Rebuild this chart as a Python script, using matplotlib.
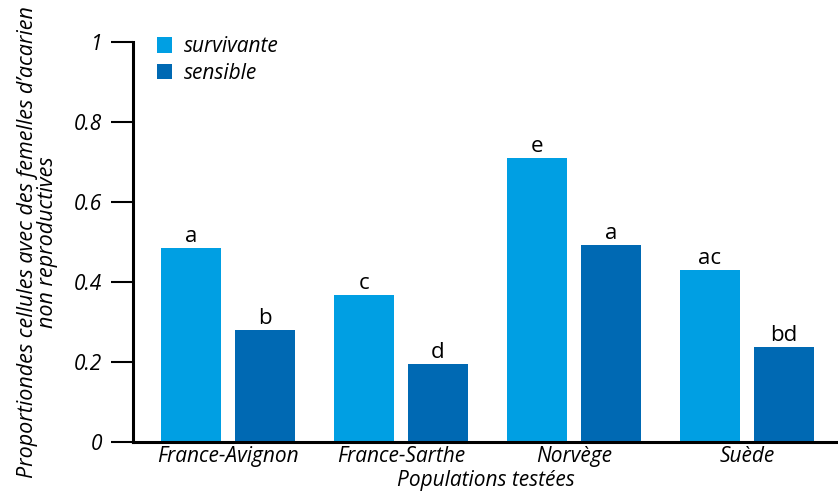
import numpy as np
import matplotlib.pyplot as plt

# Data
populations = ["France-Avignon", "France-Sarthe", "Norvège", "Suède"]
survivante = [0.485, 0.368, 0.71, 0.43]
sensible = [0.28, 0.195, 0.492, 0.237]
lettres_surv = ["a", "c", "e", "ac"]
lettres_sens = ["b", "d", "a", "bd"]

plt.rcParams["font.family"] = ["Open Sans", "DejaVu Sans"]

col_surv = "#009FE3"
col_sens = "#0069B3"

fig = plt.figure(figsize=(8.38, 4.93), dpi=100)
ax = fig.add_axes([133 / 838, 51 / 493, 705 / 838, 400 / 493])

x = np.arange(len(populations))
w = 0.347
off = 0.214
b1 = ax.bar(x - off, survivante, w, color=col_surv, label="survivante")
b2 = ax.bar(x + off, sensible, w, color=col_sens, label="sensible")

for rect, lab in zip(b1, lettres_surv):
    ax.text(rect.get_x() + rect.get_width() / 2, rect.get_height() + 0.002, lab,
            ha="center", va="bottom", fontsize=16)
for rect, lab in zip(b2, lettres_sens):
    ax.text(rect.get_x() + rect.get_width() / 2, rect.get_height() + 0.002, lab,
            ha="center", va="bottom", fontsize=16)

ax.set_xlim(-0.549, 3.526)
ax.set_ylim(0, 1)
ax.set_yticks([0, 0.2, 0.4, 0.6, 0.8, 1])
ax.set_yticklabels(["0", "0.2", "0.4", "0.6", "0.8", "1"], fontstyle="italic", fontsize=15)
ax.set_xticks(x)
ax.set_xticklabels(populations, fontstyle="italic", fontsize=15)
ax.tick_params(axis="x", length=0, pad=3)
ax.tick_params(axis="y", length=16, width=1.5, pad=6)

for s in ["top", "right"]:
    ax.spines[s].set_visible(False)
ax.spines["left"].set_linewidth(2.2)
ax.spines["bottom"].set_linewidth(2.2)

ax.set_xlabel("Populations testées", fontstyle="italic", fontsize=15, labelpad=2)
ax.set_ylabel("Proportiondes cellules avec des femelles d’acarien\nnon reproductives",
              fontstyle="italic", fontsize=15.5, linespacing=0.9, labelpad=12)

ax.legend(loc="upper left", bbox_to_anchor=(0.022, 1.035), frameon=False,
          prop={"style": "italic", "size": 15}, handlelength=0.75, handleheight=0.75,
          handletextpad=0.55, labelspacing=0.25, borderaxespad=0)

fig.savefig("out.png", dpi=100)
